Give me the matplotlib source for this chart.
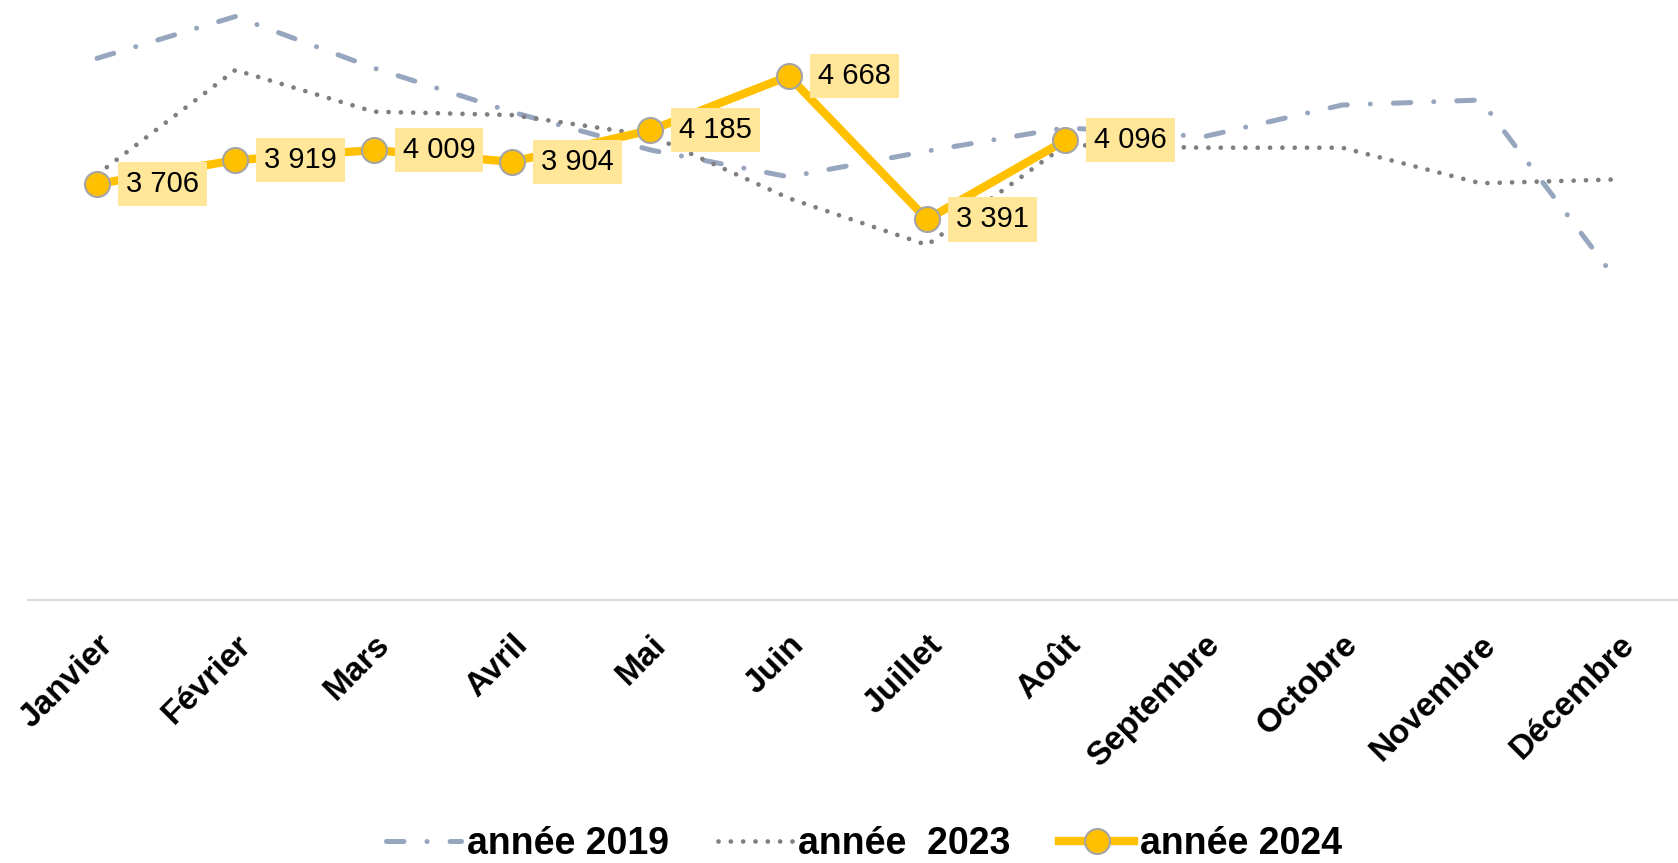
import matplotlib.pyplot as plt

# ------------------------------------------
# Data
# ------------------------------------------
mois = ["Janvier", "Février", "Mars", "Avril", "Mai", "Juin", "Juillet",
        "Août", "Septembre", "Octobre", "Novembre", "Décembre"]

annee_2019 = [4826, 5199, 4740, 4348, 4010, 3770, 4000, 4208, 4128, 4410, 4455, 2824]
annee_2023 = [3790, 4722, 4351, 4321, 4140, 3580, 3163, 4054, 4030, 4030, 3713, 3748]
annee_2024 = [3706, 3919, 4009, 3904, 4185, 4668, 3391, 4096]

plt.rcParams['font.family'] = ['Liberation Sans', 'DejaVu Sans']

# ------------------------------------------
# Figure
# ------------------------------------------
fig = plt.figure(figsize=(16.78, 8.63), dpi=100)
ax = fig.add_axes([0.01657, 0.3048, 0.9894, 0.6892])

x = list(range(len(mois)))

ax.plot(x, annee_2019, color='#97A6BF', linewidth=3.6,
        dashes=(3.5, 4.6, 0.01, 4.6), dash_capstyle='round',
        label='année 2019', zorder=2)
ax.plot(x, annee_2023, color='#7F7F7F', linewidth=3.4,
        dashes=(0.01, 2.6), dash_capstyle='round',
        label='année  2023', zorder=3)
ax.plot(x[:len(annee_2024)], annee_2024, color='#FFC000', linewidth=6,
        marker='o', markersize=18, markerfacecolor='#FFC000',
        markeredgecolor='#A5A5A5', markeredgewidth=1.5,
        label='année 2024', zorder=4)

# data labels
for i, v in enumerate(annee_2024):
    txt = f"{v:,}".replace(",", " ")
    ax.annotate(txt, (i, v), xytext=(29, 0), textcoords='offset pixels',
                ha='left', va='center', fontsize=21, color='black',
                bbox=dict(boxstyle='square,pad=0.28', facecolor='#FFE699',
                          edgecolor='none'),
                zorder=5)

ax.set_xlim(-0.5, 11.5)
ax.set_ylim(0, 5300)

ax.set_xticks(x)
ax.set_xticklabels(mois, rotation=45, ha='right', va='top',
                   rotation_mode='anchor', fontsize=24, fontweight='bold')
ax.tick_params(axis='x', length=0, pad=21)
ax.set_yticks([])

for s in ['top', 'right', 'left']:
    ax.spines[s].set_visible(False)
ax.spines['bottom'].set_color('#D9D9D9')
ax.spines['bottom'].set_linewidth(1.5)

fig.legend(loc='center', bbox_to_anchor=(0.515, 0.022), ncol=3, frameon=False,
           prop={'size': 27, 'weight': 'bold'}, handlelength=2.0,
           handletextpad=0.15, columnspacing=1.3, numpoints=1)

fig.savefig("out.png", dpi=100)
